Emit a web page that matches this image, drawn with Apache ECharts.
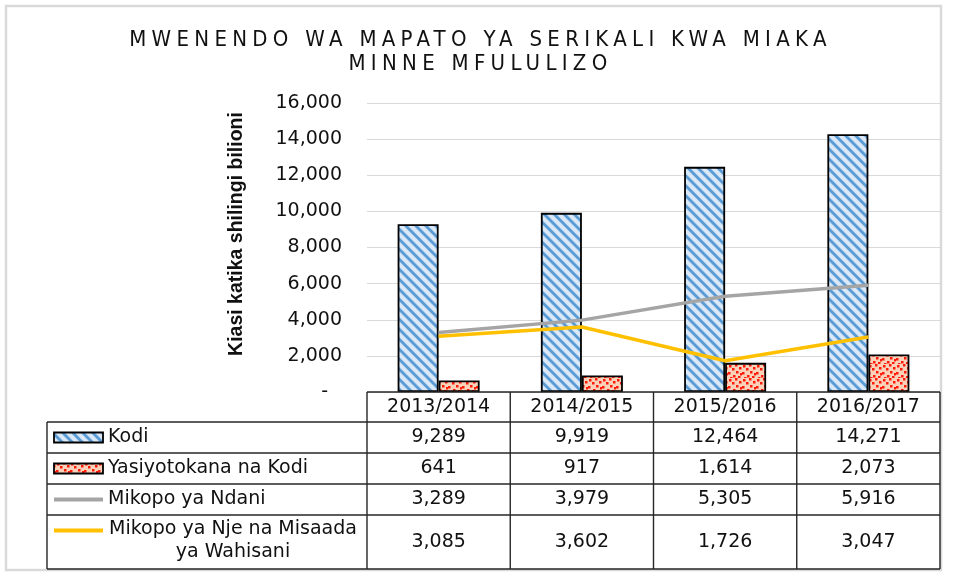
<!DOCTYPE html>
<html><head><meta charset="utf-8">
<script src="https://cdn.jsdelivr.net/npm/echarts@6/dist/echarts.min.js"></script>
<style>html,body{margin:0;padding:0;background:#fff}#c{width:961px;height:577px}</style>
</head><body><div id="c"></div>
<script>
// ---------- data ----------
const titleText = 'MWENENDO WA MAPATO YA SERIKALI KWA MIAKA\nMINNE MFULULIZO';
const yAxisTitle = 'Kiasi katika shilingi bilioni';
const categories = ['2013/2014', '2014/2015', '2015/2016', '2016/2017'];
const seriesNames = ['Kodi', 'Yasiyotokana na Kodi', 'Mikopo ya Ndani', 'Mikopo ya Nje na Misaada\nya Wahisani'];
const kodi = [9289, 9919, 12464, 14271];
const yasiyotokana = [641, 917, 1614, 2073];
const mikopoNdani = [3289, 3979, 5305, 5916];
const mikopoNje = [3085, 3602, 1726, 3047];
const yMin = 0, yMax = 16000, yStep = 2000;

// ---------- title letter spacing (canvas, title font only) ----------
const TITLE_FONT = 'DejaVu Sans Condensed';
const TITLE_SPACING = '5.3px';
(function () {
  const P = CanvasRenderingContext2D.prototype;
  const of = P.fillText;
  P.fillText = function (t, x, y, m) {
    if (typeof this.font === 'string' && this.font.indexOf('Condensed') >= 0 && ('letterSpacing' in this)) {
      this.save();
      this.letterSpacing = TITLE_SPACING;
      if (m === undefined) of.call(this, t, x, y); else of.call(this, t, x, y, m);
      this.restore();
    } else {
      if (m === undefined) of.call(this, t, x, y); else of.call(this, t, x, y, m);
    }
  };
})();

// ---------- patterns ----------
function stripePattern() {
  const s = 10, c = document.createElement('canvas');
  c.width = s; c.height = s;
  const g = c.getContext('2d');
  g.fillStyle = '#ffffff'; g.fillRect(0, 0, s, s);
  function lines(color, w) {
    g.strokeStyle = color; g.lineWidth = w;
    for (let k = -1; k <= 1; k++) {
      g.beginPath(); g.moveTo(-3, -3 + k * s); g.lineTo(s + 3, s + 3 + k * s); g.stroke();
    }
  }
  lines('#D6E6F6', 7);
  lines('#5B9BD5', 2.8);
  return c;
}
function dotPattern() {
  const s = 14, c = document.createElement('canvas');
  c.width = s; c.height = s;
  const g = c.getContext('2d');
  g.fillStyle = '#FAD2BA'; g.fillRect(0, 0, s, s);
  g.fillStyle = '#FF1A0A';
  const pts = [[1, 1], [7, 0], [11, 3], [4, 4], [8, 7], [0, 8], [12, 9], [5, 11], [10, 12], [2, 13]];
  pts.forEach(p => g.fillRect(p[0], p[1], 2.5, 2.5));
  return c;
}
const kodiFill = { image: stripePattern(), repeat: 'repeat' };
const yasiFill = { image: dotPattern(), repeat: 'repeat' };

const FONT = 'DejaVu Sans';
const fmt = v => v.toLocaleString('en-US');

const chart = echarts.init(document.getElementById('c'), null, { renderer: 'canvas' });
const GRID = { left: 367, right: 21, top: 103, bottom: 185 };
const option = {
  animation: false,
  backgroundColor: '#ffffff',
  title: {
    text: titleText, left: 'center', top: 28, padding: 0,
    textStyle: { fontFamily: TITLE_FONT, fontSize: 22, fontWeight: 'normal', color: '#111', lineHeight: 24.5 }
  },
  grid: GRID,
  xAxis: {
    type: 'category', data: categories,
    axisLine: { show: false }, axisTick: { show: false }, axisLabel: { show: false }
  },
  yAxis: {
    type: 'value', min: yMin, max: yMax, interval: yStep,
    axisLine: { show: false }, axisTick: { show: false },
    splitLine: { lineStyle: { color: '#D9D9D9', width: 1 } },
    axisLabel: {
      margin: 25, fontFamily: FONT, fontSize: 19, color: '#111',
      formatter: v => v === 0 ? '{z|-}' : fmt(v),
      rich: { z: { fontFamily: FONT, fontSize: 19, color: '#111', padding: [0, 14, 0, 0] } }
    }
  },
  series: [
    { name: seriesNames[0], type: 'bar', data: kodi, barWidth: 41, barGap: '0%',
      itemStyle: { color: kodiFill, borderColor: '#000', borderWidth: 1.8 } },
    { name: seriesNames[1], type: 'bar', data: yasiyotokana, barWidth: 41, barGap: '0%',
      itemStyle: { color: yasiFill, borderColor: '#000', borderWidth: 1.8 } },
    { name: seriesNames[2], type: 'line', data: mikopoNdani, symbol: 'none', z: 5,
      lineStyle: { color: '#A5A5A5', width: 3.5 } },
    { name: seriesNames[3], type: 'line', data: mikopoNje, symbol: 'none', z: 5,
      lineStyle: { color: '#FFC000', width: 3.5 } }
  ]
};
chart.setOption(option);

// ---------- data table (positions from the axis) ----------
const centers = categories.map(c => chart.convertToPixel({ xAxisIndex: 0 }, c));
const band = centers[1] - centers[0];
const x0 = centers[0] - band / 2, xEnd = centers[3] + band / 2;
const yTop = chart.convertToPixel({ yAxisIndex: 0 }, yMin);
const rowsY = [yTop, yTop + 30, yTop + 61, yTop + 92, yTop + 123, yTop + 177];
const tableLeft = 47;
const LC = '#262626', LW = 1.4;
const g = [];
function line(x1, y1, x2, y2) {
  g.push({ type: 'line', silent: true, z: 10, shape: { x1, y1, x2, y2 }, style: { stroke: LC, lineWidth: LW } });
}
function text(str, x, y, align) {
  g.push({ type: 'text', silent: true, z: 11, x, y,
    style: { text: str, fontFamily: FONT, fontSize: 19, fill: '#111',
      align: align, verticalAlign: 'middle', textAlign: align, textVerticalAlign: 'middle', lineHeight: 23 } });
}
// outer frame
g.push({ type: 'rect', silent: true, z: 1, shape: { x: 6, y: 6, width: 935, height: 564 },
  style: { fill: 'none', stroke: '#D9D9D9', lineWidth: 2.5 } });
// horizontal lines
line(x0, rowsY[0], xEnd, rowsY[0]);
for (let i = 1; i < rowsY.length; i++) line(tableLeft, rowsY[i], xEnd, rowsY[i]);
// vertical lines
line(tableLeft, rowsY[1], tableLeft, rowsY[5]);
for (let i = 0; i <= categories.length; i++) {
  const x = x0 + band * i;
  line(x, rowsY[0], x, rowsY[5]);
}
// header
categories.forEach((c, i) => text(c, centers[i], (rowsY[0] + rowsY[1]) / 2, 'center'));
// values
const tableData = [kodi, yasiyotokana, mikopoNdani, mikopoNje];
tableData.forEach((arr, r) => {
  const cy = (rowsY[r + 1] + rowsY[r + 2]) / 2;
  arr.forEach((v, i) => text(fmt(v), centers[i], cy, 'center'));
});
// legend keys + labels
const keyX = 54, keyW = 49, labelX = 108;
const cy = r => (rowsY[r + 1] + rowsY[r + 2]) / 2;
g.push({ type: 'rect', silent: true, z: 11, shape: { x: keyX, y: cy(0) - 5, width: keyW, height: 10 },
  style: { fill: kodiFill, stroke: '#000', lineWidth: 1.8 } });
g.push({ type: 'rect', silent: true, z: 11, shape: { x: keyX, y: cy(1) - 5, width: keyW, height: 10 },
  style: { fill: yasiFill, stroke: '#000', lineWidth: 1.8 } });
g.push({ type: 'line', silent: true, z: 11, shape: { x1: keyX, y1: cy(2), x2: keyX + keyW, y2: cy(2) },
  style: { stroke: '#A5A5A5', lineWidth: 4 } });
g.push({ type: 'line', silent: true, z: 11, shape: { x1: keyX, y1: cy(2) + 31, x2: keyX + keyW, y2: cy(2) + 31 },
  style: { stroke: '#FFC000', lineWidth: 4 } });
text(seriesNames[0], labelX, cy(0), 'left');
text(seriesNames[1], labelX, cy(1), 'left');
text(seriesNames[2], labelX, cy(2), 'left');
text(seriesNames[3], 233, cy(3) - 1, 'center');
// y axis title
g.push({ type: 'text', silent: true, z: 11, x: 237, y: 234, rotation: Math.PI / 2,
  style: { text: yAxisTitle, fontFamily: 'Liberation Sans', fontWeight: 'bold', fontSize: 19.5, fill: '#111',
    align: 'center', verticalAlign: 'middle', textAlign: 'center', textVerticalAlign: 'middle' } });

chart.setOption({ graphic: g });
</script>
</body></html>
